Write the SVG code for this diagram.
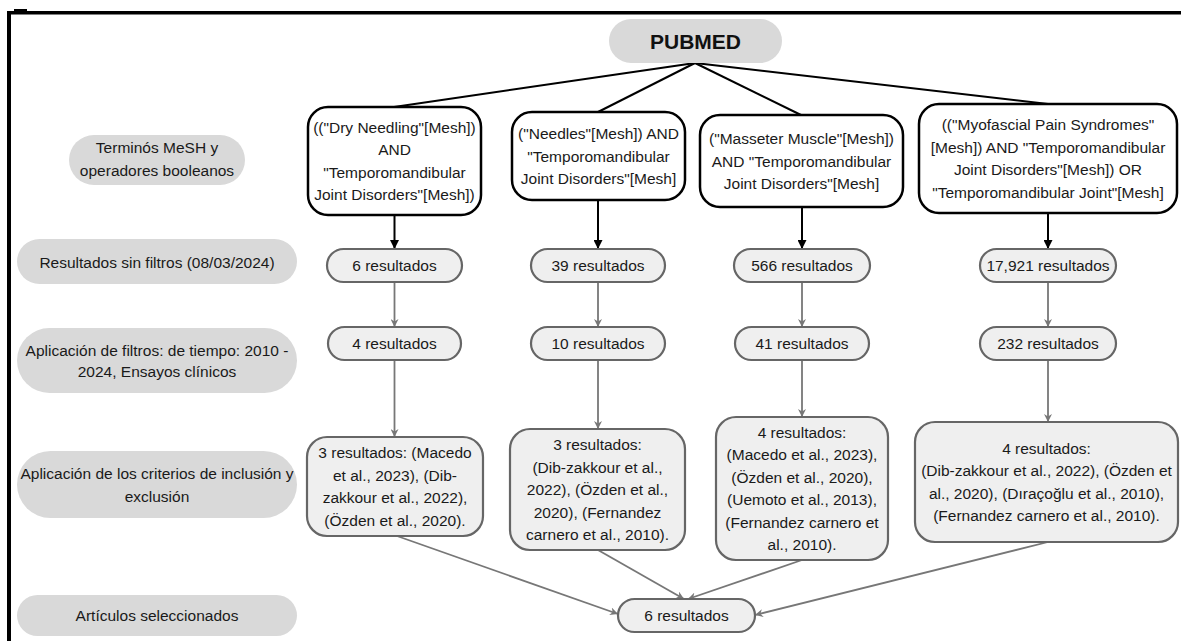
<svg xmlns="http://www.w3.org/2000/svg" width="1181" height="641" viewBox="0 0 1181 641">
<defs>
<style>
text{font-family:"Liberation Sans",Arial,sans-serif;font-size:15.5px;fill:#1a1a1a;text-anchor:middle}
.lab{fill:#d9d9d9;stroke:none}
.q{fill:#fff;stroke:#000;stroke-width:2.5}
.r{fill:#efefef;stroke:#666;stroke-width:2.2}
.fan{stroke:#000;stroke-width:2;fill:none}
.blk{stroke:#000;stroke-width:2;fill:none}
.gry{stroke:#777;stroke-width:1.8;fill:none}
.title{font-size:21px;font-weight:bold;fill:#111}
</style>
<marker id="ab" viewBox="0 0 10 10" refX="10" refY="5" markerWidth="9" markerHeight="9" markerUnits="userSpaceOnUse" orient="auto"><path d="M0,0 L10,5 L0,10 z" fill="#000"/></marker>
<marker id="ag" viewBox="0 0 10 10" refX="10" refY="5" markerWidth="8" markerHeight="8" markerUnits="userSpaceOnUse" orient="auto"><path d="M0,0 L10,5 L0,10 L3,5 z" fill="#777"/></marker>
</defs>
<rect width="1181" height="641" fill="#fff"/>
<g id="frame">
<rect x="7" y="11" width="1174" height="3.5" fill="#000"/>
<rect x="7" y="11" width="4" height="630" fill="#000"/>
<rect x="14" y="9" width="13" height="3" fill="#000"/>
</g>
<g id="connectors">
<line class="fan" x1="695" y1="63" x2="394" y2="107"/>
<line class="fan" x1="695" y1="63" x2="598" y2="112"/>
<line class="fan" x1="695" y1="63" x2="801" y2="115"/>
<line class="fan" x1="695" y1="63" x2="1048" y2="104"/>
<line class="blk" x1="394.5" y1="215" x2="394.5" y2="249" marker-end="url(#ab)"/>
<line class="blk" x1="598" y1="200" x2="598" y2="249" marker-end="url(#ab)"/>
<line class="blk" x1="802" y1="207" x2="802" y2="249" marker-end="url(#ab)"/>
<line class="blk" x1="1048" y1="213" x2="1048" y2="249" marker-end="url(#ab)"/>
<line class="gry" x1="394.5" y1="282" x2="394.5" y2="327" marker-end="url(#ag)"/>
<line class="gry" x1="598" y1="282" x2="598" y2="327" marker-end="url(#ag)"/>
<line class="gry" x1="802" y1="282" x2="802" y2="327" marker-end="url(#ag)"/>
<line class="gry" x1="1048" y1="282" x2="1048" y2="327" marker-end="url(#ag)"/>
<line class="gry" x1="394.5" y1="360" x2="394.5" y2="437" marker-end="url(#ag)"/>
<line class="gry" x1="598" y1="360" x2="598" y2="429" marker-end="url(#ag)"/>
<line class="gry" x1="802" y1="360" x2="802" y2="417" marker-end="url(#ag)"/>
<line class="gry" x1="1048" y1="360" x2="1048" y2="422" marker-end="url(#ag)"/>
<line class="gry" x1="397" y1="536" x2="618" y2="614" marker-end="url(#ag)"/>
<line class="gry" x1="598" y1="550" x2="684" y2="599" marker-end="url(#ag)"/>
<line class="gry" x1="802" y1="560" x2="688" y2="599" marker-end="url(#ag)"/>
<line class="gry" x1="1048" y1="542" x2="755" y2="615" marker-end="url(#ag)"/>
</g>
<g id="pubmed">
<rect class="lab" x="609" y="19" width="173" height="44" rx="22"/>
<text class="title" x="695.5" y="48.5">PUBMED</text>
</g>
<g id="lab-terminos">
<rect class="lab" x="69" y="135" width="176" height="50" rx="25"/>
<text x="157" y="152.5">Terminós MeSH y</text>
<text x="157" y="175.5">operadores booleanos</text>
</g>
<g id="lab-sinfiltros">
<rect class="lab" x="17" y="239" width="280" height="45" rx="22.5"/>
<text x="157" y="267.5">Resultados sin filtros (08/03/2024)</text>
</g>
<g id="lab-filtros">
<rect class="lab" x="17" y="328" width="280" height="65" rx="32.5"/>
<text x="157" y="355.5">Aplicación de filtros: de tiempo: 2010 -</text>
<text x="157" y="376.5">2024, Ensayos clínicos</text>
</g>
<g id="lab-criterios">
<rect class="lab" x="17" y="451" width="280" height="67" rx="33.5"/>
<text x="157" y="479">Aplicación de los criterios de inclusión y</text>
<text x="157" y="502">exclusión</text>
</g>
<g id="lab-articulos">
<rect class="lab" x="17" y="595" width="280" height="41" rx="20.5"/>
<text x="157" y="621">Artículos seleccionados</text>
</g>
<g id="q1">
<rect class="q" x="308" y="107" width="173" height="108" rx="20"/>
<text x="394.5" y="132.75">(("Dry Needling"[Mesh])</text>
<text x="394.5" y="155.25">AND</text>
<text x="394.5" y="177.75">"Temporomandibular</text>
<text x="394.5" y="200.25">Joint Disorders"[Mesh])</text>
</g>
<g id="q2">
<rect class="q" x="512" y="112" width="173" height="88" rx="20"/>
<text x="598.5" y="139">("Needles"[Mesh]) AND</text>
<text x="598.5" y="161.5">"Temporomandibular</text>
<text x="598.5" y="184">Joint Disorders"[Mesh]</text>
</g>
<g id="q3">
<rect class="q" x="700" y="115" width="203" height="92" rx="20"/>
<text x="801.5" y="144">("Masseter Muscle"[Mesh])</text>
<text x="801.5" y="166.5">AND "Temporomandibular</text>
<text x="801.5" y="189">Joint Disorders"[Mesh]</text>
</g>
<g id="q4">
<rect class="q" x="919" y="104" width="258" height="109" rx="20"/>
<text x="1048" y="130.25">(("Myofascial Pain Syndromes"</text>
<text x="1048" y="152.75">[Mesh]) AND "Temporomandibular</text>
<text x="1048" y="175.25">Joint Disorders"[Mesh]) OR</text>
<text x="1048" y="197.75">"Temporomandibular Joint"[Mesh]</text>
</g>
<g id="r1a"><rect class="r" x="327" y="249" width="135" height="33" rx="16.5"/><text x="394.5" y="271">6 resultados</text></g>
<g id="r2a"><rect class="r" x="531" y="249" width="134" height="33" rx="16.5"/><text x="598" y="271">39 resultados</text></g>
<g id="r3a"><rect class="r" x="734" y="249" width="136" height="33" rx="16.5"/><text x="802" y="271">566 resultados</text></g>
<g id="r4a"><rect class="r" x="980" y="249" width="136" height="33" rx="16.5"/><text x="1048" y="271">17,921 resultados</text></g>
<g id="r1b"><rect class="r" x="328" y="327" width="133" height="33" rx="16.5"/><text x="394.5" y="349">4 resultados</text></g>
<g id="r2b"><rect class="r" x="531" y="327" width="134" height="33" rx="16.5"/><text x="598" y="349">10 resultados</text></g>
<g id="r3b"><rect class="r" x="735" y="327" width="134" height="33" rx="16.5"/><text x="802" y="349">41 resultados</text></g>
<g id="r4b"><rect class="r" x="980" y="327" width="136" height="33" rx="16.5"/><text x="1048" y="349">232 resultados</text></g>
<g id="s1">
<rect class="r" x="307" y="437" width="176" height="99" rx="20"/>
<text x="395" y="458.25">3 resultados: (Macedo</text>
<text x="395" y="480.75">et al., 2023), (Dib-</text>
<text x="395" y="503.25">zakkour et al., 2022),</text>
<text x="395" y="525.75">(Özden et al., 2020).</text>
</g>
<g id="s2">
<rect class="r" x="510" y="429" width="175" height="121" rx="20"/>
<text x="597.5" y="450">3 resultados:</text>
<text x="597.5" y="472.5">(Dib-zakkour et al.,</text>
<text x="597.5" y="495">2022), (Özden et al.,</text>
<text x="597.5" y="517.5">2020), (Fernandez</text>
<text x="597.5" y="540">carnero et al., 2010).</text>
</g>
<g id="s3">
<rect class="r" x="716" y="417" width="172" height="143" rx="20"/>
<text x="802" y="437.75">4 resultados:</text>
<text x="802" y="460.25">(Macedo et al., 2023),</text>
<text x="802" y="482.75">(Özden et al., 2020),</text>
<text x="802" y="505.25">(Uemoto et al., 2013),</text>
<text x="802" y="527.75">(Fernandez carnero et</text>
<text x="802" y="550.25">al., 2010).</text>
</g>
<g id="s4">
<rect class="r" x="915" y="422" width="263" height="120" rx="20"/>
<text x="1046.5" y="453.75">4 resultados:</text>
<text x="1046.5" y="476.25">(Dib-zakkour et al., 2022), (Özden et</text>
<text x="1046.5" y="498.75">al., 2020), (Dıraçoğlu et al., 2010),</text>
<text x="1046.5" y="521.25">(Fernandez carnero et al., 2010).</text>
</g>
<g id="final">
<rect class="r" x="618" y="599" width="137" height="33" rx="16.5"/>
<text x="686.5" y="621">6 resultados</text>
</g>
</svg>
